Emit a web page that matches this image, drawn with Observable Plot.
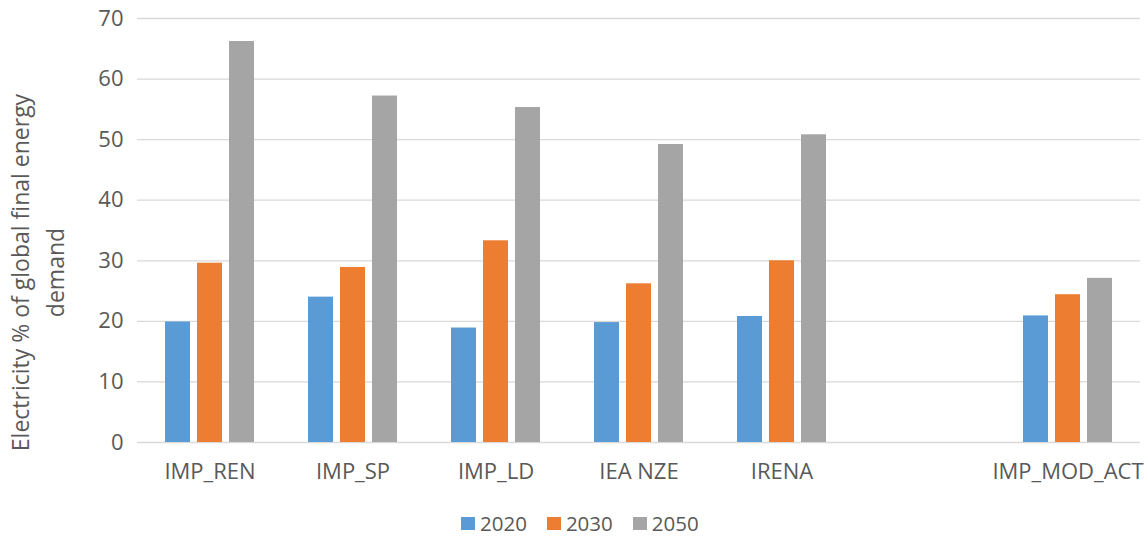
<!DOCTYPE html>
<html>
<head>
<meta charset="utf-8">
<script src="https://cdn.jsdelivr.net/npm/d3@7"></script>
<script src="https://cdn.jsdelivr.net/npm/@observablehq/plot@0.6"></script>
<style>
  html, body { margin: 0; padding: 0; background: #fff; }
  #chart { width: 1148px; font-family: "Open Sans", sans-serif; color: #595959; }
  .legend { display: flex; align-items: center; height: 34px; padding-top: 12px; padding-left: 461px; box-sizing: border-box; font-size: 20.5px; line-height: 22px; color: #595959; }
  .legend .item { display: flex; align-items: center; margin-right: 20px; }
  .legend .sw { width: 14px; height: 13px; margin-right: 5px; }
</style>
</head>
<body>
<div id="chart"></div>
<script>
// Data
const slots = ["IMP_REN", "IMP_SP", "IMP_LD", "IEA NZE", "IRENA", " ", "IMP_MOD_ACT"];
const scenarios = ["IMP_REN", "IMP_SP", "IMP_LD", "IEA NZE", "IRENA", "IMP_MOD_ACT"];
const years = ["2020", "2030", "2050"];
const v2020 = [19.9, 24.0, 18.9, 19.8, 20.8, 20.9];
const v2030 = [29.6, 28.9, 33.3, 26.2, 30.0, 24.4];
const v2050 = [66.2, 57.2, 55.3, 49.2, 50.8, 27.1];
const yTicks = [0, 10, 20, 30, 40, 50, 60, 70];
const colors = ["#5B9BD5", "#ED7D31", "#A5A5A5"];
const yTitle = "Electricity % of global final energy\ndemand";

const series = [v2020, v2030, v2050];
const rows = [];
series.forEach((vals, i) => vals.forEach((v, j) => rows.push({scenario: scenarios[j], year: years[i], value: v})));

const offsets = [-32, 0, 32];
const barMarks = years.map((yr, i) =>
  Plot.barY(rows.filter(d => d.year === yr), {
    x: "scenario", y: "value", fill: colors[i],
    insetLeft: 32, insetRight: 32, dx: offsets[i]
  })
);

const chart = Plot.plot({
  width: 1148,
  height: 500,
  marginTop: 18,
  marginBottom: 58,
  marginLeft: 137,
  marginRight: 8,
  style: { fontFamily: "Open Sans, sans-serif", fontSize: "22px", color: "#595959", background: "#fff" },
  x: { domain: slots, paddingInner: 0.38, paddingOuter: 0.19, label: null, tickSize: 0, tickPadding: 21 },
  y: { domain: [0, 70], ticks: yTicks, label: null, tickSize: 0, tickPadding: 14 },
  marks: [
    Plot.ruleY(yTicks, { stroke: "#D9D9D9", strokeWidth: 1.3 }),
    ...barMarks,
    Plot.text([yTitle], { text: d => d, frameAnchor: "left", textAnchor: "middle", rotate: -90, dx: -102, dy: 42, lineHeight: 1.5, fill: "#595959", fontSize: 23 })
  ]
});

const root = document.getElementById("chart");
root.appendChild(chart);

const legend = document.createElement("div");
legend.className = "legend";
years.forEach((yr, i) => {
  const item = document.createElement("div");
  item.className = "item";
  const sw = document.createElement("span");
  sw.className = "sw";
  sw.style.background = colors[i];
  const t = document.createElement("span");
  t.textContent = yr;
  item.appendChild(sw);
  item.appendChild(t);
  legend.appendChild(item);
});
root.appendChild(legend);
</script>
</body>
</html>
